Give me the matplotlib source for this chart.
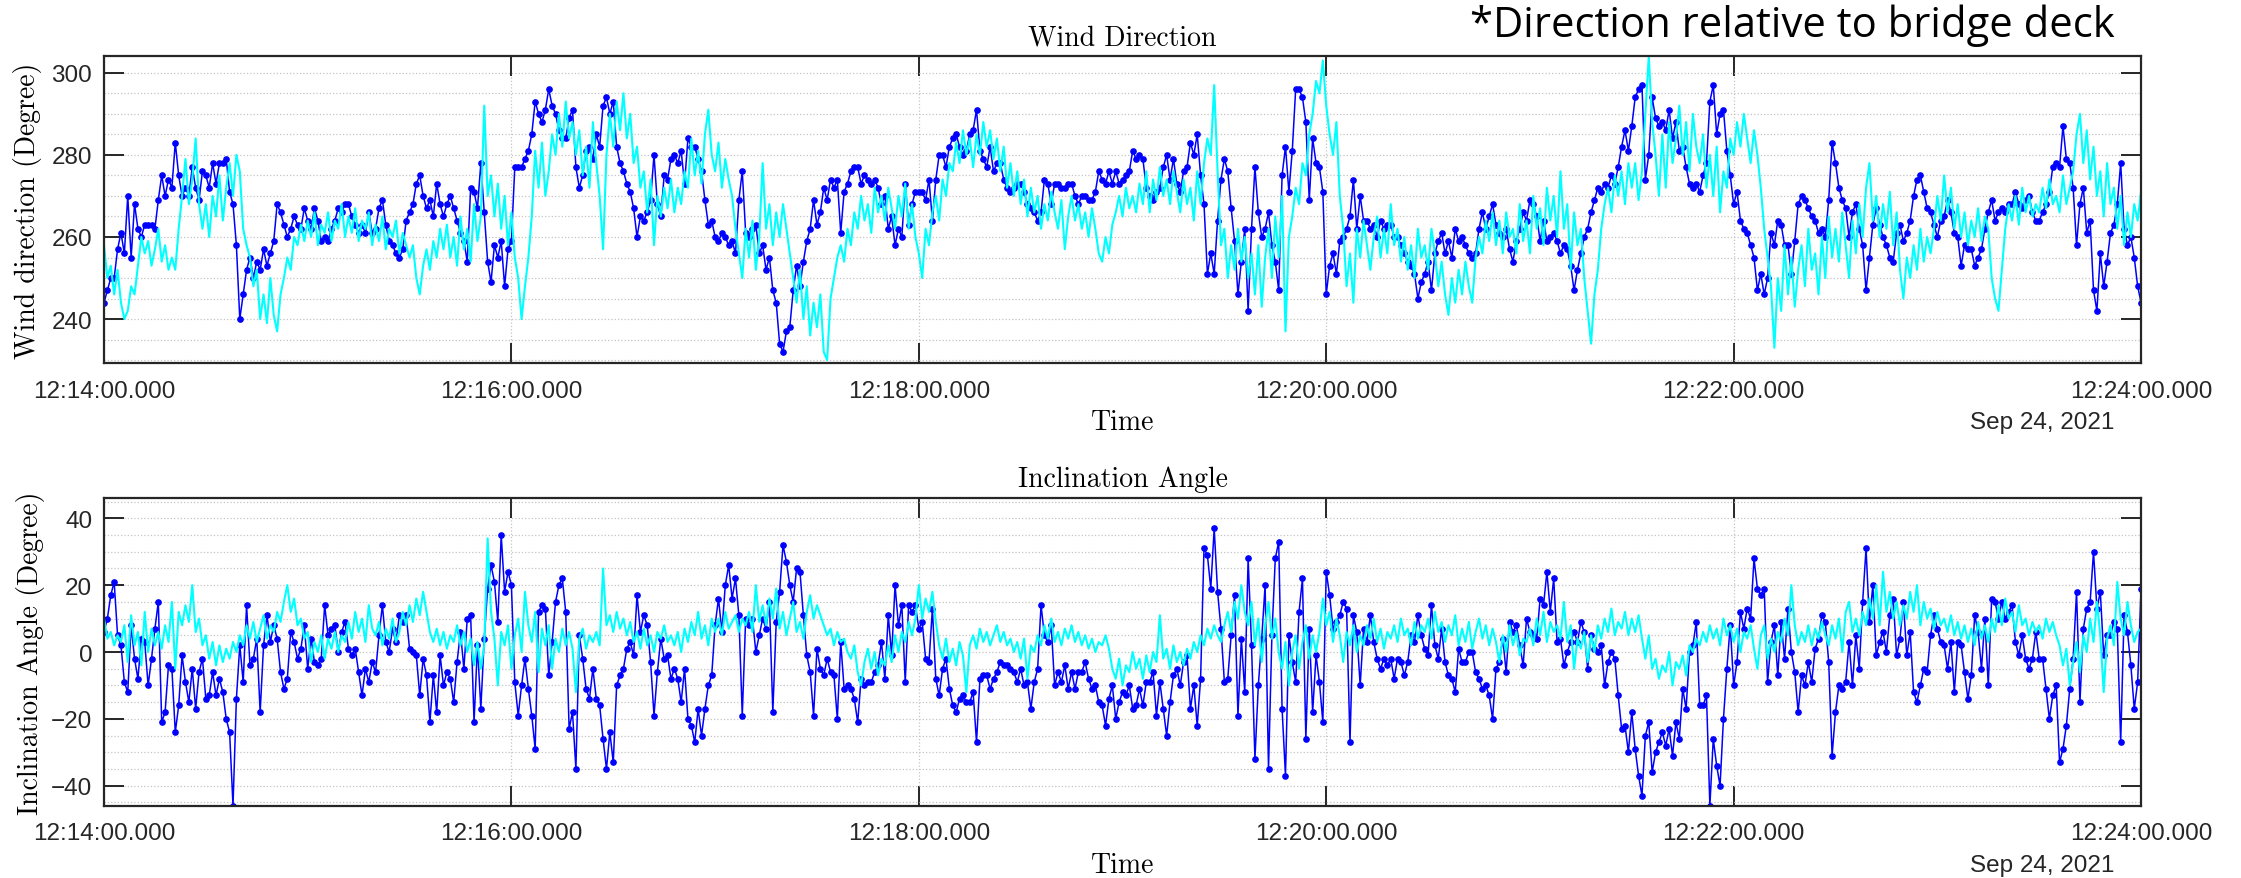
import matplotlib.pyplot as plt
import matplotlib.dates as mdates
from matplotlib.ticker import MultipleLocator
import numpy as np

# one value per second, 12:14:00 -> 12:24:00
dir_dots = [
    244, 247, 250, 250, 257, 261, 256, 270, 255, 268,
    262, 260, 263, 263, 263, 262, 269, 275, 270, 274,
    272, 283, 275, 270, 272, 270, 277, 272, 269, 276,
    275, 272, 278, 273, 278, 278, 279, 271, 268, 258,
    240, 246, 252, 255, 250, 254, 252, 257, 253, 256,
    259, 268, 266, 263, 260, 262, 265, 263, 262, 267,
    264, 262, 267, 264, 259, 260, 259, 262, 264, 267,
    266, 268, 268, 265, 263, 261, 263, 261, 266, 261,
    262, 267, 269, 263, 259, 258, 256, 255, 257, 264,
    266, 268, 273, 275, 270, 267, 269, 265, 273, 268,
    265, 268, 270, 267, 264, 261, 259, 254, 272, 271,
    267, 278, 266, 254, 249, 258, 255, 259, 248, 257,
    259, 277, 277, 277, 279, 281, 285, 293, 290, 288,
    291, 296, 292, 290, 286, 284, 284, 289, 291, 277,
    272, 275, 281, 282, 279, 285, 282, 292, 294, 290,
    293, 282, 278, 276, 273, 271, 267, 260, 265, 264,
    266, 269, 280, 268, 265, 275, 274, 279, 280, 278,
    281, 273, 284, 282, 282, 279, 276, 269, 263, 264,
    260, 259, 261, 260, 258, 259, 256, 269, 276, 261,
    260, 262, 263, 256, 258, 252, 255, 247, 244, 234,
    232, 237, 238, 247, 253, 248, 254, 259, 262, 269,
    263, 266, 272, 269, 274, 272, 274, 261, 271, 273,
    276, 277, 277, 273, 275, 274, 273, 274, 272, 268,
    270, 262, 265, 258, 262, 260, 273, 263, 268, 271,
    271, 271, 269, 274, 264, 274, 280, 280, 277, 282,
    284, 285, 282, 280, 281, 285, 286, 291, 281, 279,
    277, 282, 276, 278, 278, 274, 272, 271, 272, 273,
    273, 271, 268, 267, 266, 264, 266, 274, 273, 268,
    273, 273, 272, 272, 273, 273, 270, 268, 270, 270,
    269, 269, 271, 276, 274, 273, 276, 273, 276, 273,
    274, 275, 276, 281, 279, 280, 279, 272, 270, 269,
    271, 272, 277, 280, 274, 279, 273, 271, 276, 277,
    283, 280, 285, 275, 268, 251, 256, 251, 264, 274,
    279, 276, 267, 259, 246, 254, 262, 242, 262, 277,
    266, 260, 262, 266, 258, 254, 247, 275, 282, 271,
    281, 296, 296, 294, 288, 269, 284, 278, 277, 271,
    246, 253, 256, 251, 259, 260, 262, 265, 274, 262,
    270, 264, 264, 262, 263, 260, 264, 262, 263, 263,
    260, 260, 258, 256, 254, 253, 251, 245, 249, 251,
    254, 247, 256, 259, 261, 256, 259, 255, 262, 259,
    260, 258, 256, 255, 256, 262, 266, 262, 265, 268,
    263, 261, 260, 262, 257, 254, 259, 262, 266, 264,
    269, 268, 265, 259, 264, 259, 260, 261, 259, 256,
    258, 257, 253, 247, 252, 256, 260, 262, 266, 269,
    272, 271, 273, 272, 275, 273, 277, 282, 286, 281,
    287, 294, 296, 297, 274, 280, 294, 289, 287, 288,
    286, 291, 284, 288, 281, 282, 277, 273, 272, 273,
    271, 275, 278, 293, 297, 285, 290, 291, 281, 275,
    268, 271, 264, 262, 261, 258, 255, 247, 251, 246,
    250, 261, 258, 264, 263, 258, 258, 251, 259, 268,
    270, 269, 267, 265, 264, 261, 262, 260, 269, 283,
    278, 272, 269, 267, 260, 266, 268, 262, 258, 247,
    255, 263, 267, 263, 260, 258, 255, 254, 261, 263,
    259, 261, 264, 270, 274, 275, 271, 267, 266, 263,
    260, 264, 265, 269, 266, 261, 260, 253, 258, 257,
    257, 253, 255, 257, 262, 266, 269, 264, 266, 267,
    266, 268, 268, 271, 268, 267, 269, 270, 266, 264,
    264, 266, 268, 271, 277, 278, 277, 287, 279, 278,
    272, 258, 268, 272, 261, 264, 247, 242, 256, 248,
    254, 261, 263, 268, 278, 262, 258, 260, 255, 248,
    244,
]

dir_trace = [
    258, 250, 253, 246, 252, 244, 240, 242, 248, 246,
    253, 260, 256, 259, 253, 257, 262, 254, 258, 252,
    255, 252, 262, 270, 279, 268, 274, 284, 268, 262,
    268, 260, 270, 265, 275, 264, 272, 278, 270, 280,
    276, 262, 258, 255, 248, 252, 240, 246, 239, 250,
    241, 237, 246, 250, 255, 252, 260, 258, 263, 259,
    264, 260, 266, 258, 263, 261, 266, 259, 264, 262,
    268, 260, 265, 261, 267, 259, 264, 262, 266, 258,
    263, 259, 265, 257, 262, 260, 264, 256, 261, 258,
    255, 258, 250, 246, 253, 257, 252, 259, 255, 262,
    257, 263, 255, 260, 253, 265, 257, 262, 254, 268,
    259, 265, 292, 270, 275, 265, 273, 262, 270, 258,
    266, 255, 250, 240, 248, 255, 265, 281, 272, 283,
    270, 276, 285, 280, 290, 282, 293, 284, 288, 280,
    286, 275, 282, 272, 288, 278, 270, 257, 280, 290,
    282, 293, 286, 295, 284, 290, 278, 282, 272, 276,
    266, 274, 258, 270, 265, 272, 267, 274, 266, 272,
    268, 276, 272, 284, 275, 281, 273, 285, 291, 280,
    276, 283, 272, 279, 274, 270, 262, 256, 250, 262,
    255, 264, 252, 260, 278, 262, 268, 258, 266, 260,
    268, 262, 256, 250, 244, 252, 240, 248, 236, 244,
    238, 246, 232, 230, 245, 250, 255, 258, 254, 262,
    258, 266, 262, 270, 264, 268, 261, 272, 266, 270,
    264, 272, 267, 262, 270, 265, 273, 262, 268, 260,
    256, 250, 262, 258, 266, 270, 264, 274, 270, 278,
    276, 283, 278, 286, 280, 284, 277, 285, 280, 288,
    282, 286, 279, 284, 276, 282, 272, 278, 270, 276,
    268, 274, 265, 272, 266, 270, 262, 268, 264, 271,
    266, 262, 269, 257, 265, 270, 264, 268, 262, 266,
    260, 267, 262, 256, 254, 260, 256, 263, 266, 270,
    265, 272, 267, 270, 266, 273, 268, 276, 266, 274,
    269, 277, 270, 274, 268, 276, 271, 266, 274, 268,
    272, 264, 276, 268, 278, 284, 280, 297, 276, 258,
    262, 250, 258, 252, 262, 254, 260, 250, 256, 246,
    258, 243, 255, 262, 250, 265, 255, 270, 237, 260,
    265, 272, 268, 278, 275, 285, 290, 298, 295, 303,
    292, 285, 280, 288, 270, 262, 248, 256, 244, 262,
    255, 264, 258, 252, 260, 265, 255, 262, 256, 268,
    258, 262, 254, 260, 252, 258, 250, 262, 255, 258,
    252, 262, 256, 248, 254, 246, 241, 250, 244, 252,
    246, 254, 248, 244, 255, 260, 256, 264, 259, 266,
    258, 264, 256, 266, 260, 262, 256, 268, 259, 264,
    256, 270, 262, 267, 258, 272, 264, 270, 260, 276,
    262, 268, 252, 266, 258, 262, 250, 242, 234, 246,
    252, 262, 268, 272, 266, 275, 270, 276, 268, 278,
    272, 278, 269, 276, 290, 304, 288, 280, 270, 285,
    272, 288, 278, 284, 292, 280, 288, 276, 290, 282,
    278, 285, 272, 280, 270, 282, 266, 276, 272, 284,
    280, 288, 282, 290, 284, 278, 286, 280, 272, 262,
    255, 248, 233, 250, 242, 258, 246, 255, 243, 252,
    258, 248, 262, 252, 256, 246, 260, 250, 265, 255,
    262, 254, 266, 258, 250, 264, 256, 268, 260, 272,
    278, 264, 270, 260, 268, 262, 271, 258, 266, 252,
    245, 255, 250, 258, 252, 262, 254, 260, 256, 262,
    270, 264, 275, 266, 272, 262, 268, 260, 266, 258,
    264, 260, 267, 259, 265, 262, 250, 245, 242, 252,
    262, 268, 264, 270, 263, 272, 266, 270, 265, 268,
    266, 272, 267, 274, 268, 270, 266, 275, 268, 272,
    276, 285, 290, 278, 286, 274, 282, 270, 276, 265,
    278, 268, 272, 262, 270, 258, 266, 260, 268, 264,
    271,
]

incl_dots = [
    6, 10, 17, 21, 5, 2, -9, -12, 8, -2,
    -8, 4, 3, -10, -2, 7, 15, -21, -18, -4,
    -5, -24, -16, -1, -9, -15, -5, -17, -6, -2,
    -14, -13, -6, -13, -8, -12, -20, -24, -46, -14,
    2, -9, 14, -4, -2, 4, -18, 2, 11, 3,
    8, 4, -6, -11, -8, 6, 3, -2, 1, 8,
    -5, 4, -3, -4, -2, 14, 5, 7, 8, 0,
    6, 9, 1, -1, 1, -6, -13, -5, -9, -3,
    -6, 5, 14, 3, 0, 7, 3, 11, 9, 11,
    1, 0, -1, -13, -2, -7, -21, -7, -18, -1,
    -10, -6, -8, -15, -3, 6, -5, 10, 11, -21,
    2, -17, 4, 19, 26, 21, 9, 35, 18, 24,
    20, -9, -19, -10, -2, -11, -19, -29, 12, 14,
    13, -7, 3, 15, 20, 22, 12, -23, -18, -35,
    5, -2, -11, -14, -5, -14, -16, -26, -35, -24,
    -33, -10, -7, -5, 1, 3, -1, 17, 6, 11,
    8, -3, -19, -6, 4, -2, -1, -8, -5, -8,
    -15, -5, -20, -22, -27, -17, -25, -17, -10, -7,
    8, 16, 6, 20, 26, 16, 22, 11, -19, 10,
    8, 10, 0, 5, 10, 7, 15, -18, 9, 18,
    32, 27, 20, 15, 25, 24, 11, -1, -6, -19,
    1, -5, -7, -2, -6, -7, -20, 3, -11, -10,
    -11, -14, -21, -8, -10, -9, -9, -6, -4, 3,
    -8, 11, -1, 20, 8, 14, -9, 14, 12, 14,
    7, 9, -2, -3, 13, -8, -13, -5, -2, -11,
    -16, -18, -14, -13, -15, -15, -12, -27, -8, -7,
    -7, -11, -8, -6, -3, -4, -4, -5, -6, -9,
    -5, -10, -9, -17, -9, -5, 14, 5, 3, 8,
    -10, -6, -9, -4, -11, -6, -11, -6, -6, -3,
    -8, -11, -10, -15, -16, -22, -14, -10, -20, -15,
    -12, -13, -10, -17, -16, -11, -16, -9, -9, -6,
    -19, -9, -17, -25, -15, -7, -5, -10, -3, -1,
    -17, -10, -22, -8, 31, 29, 19, 37, 18, 7,
    -9, -8, 5, 17, -19, 4, -12, 28, 2, -32,
    -10, 4, 20, -35, 5, 28, 33, -17, -37, 5,
    -3, -9, 12, 22, -26, 7, -18, -1, -9, -21,
    24, 17, 7, 9, 11, 15, 13, -27, 11, 6,
    -10, 7, 3, 11, 3, -2, -5, -2, -4, -2,
    -8, -2, -3, -7, -3, 5, 3, 11, 5, 1,
    -1, 14, 2, -2, 7, -3, -7, -8, -12, 1,
    -3, -3, 0, 0, -6, -8, -11, -10, -13, -20,
    -5, -3, 4, -6, 9, 6, 8, 2, -4, 10,
    6, 5, 4, 16, 14, 24, 12, 22, 3, 4,
    -4, 0, 3, 6, 3, 9, 6, -5, 5, 1,
    0, 2, -10, -3, 0, -2, -13, -23, -22, -30,
    -18, -29, -37, -43, -25, -21, -36, -30, -27, -24,
    -28, -23, -31, -21, -26, -11, -17, 0, 2, 9,
    -16, -16, -13, -46, -26, -34, -40, -20, -5, 8,
    -10, -3, 12, 7, 13, 10, 28, 19, 17, 19,
    -9, 3, 8, -7, 9, -2, 13, 0, -6, -18,
    -7, -10, -3, -9, 1, 4, 11, 9, -3, -31,
    -18, -10, -11, -9, 3, -10, 5, -5, 15, 31,
    9, 20, -1, 3, 6, 0, 11, 16, -1, 4,
    15, -1, 6, -12, -15, -10, -5, -6, 5, 11,
    7, 3, 2, -5, 3, -12, 3, 2, -6, -14,
    -7, 11, 6, -5, 10, -10, 16, 15, 10, 15,
    10, 12, 14, 3, -1, 5, -2, -5, -2, 6,
    -2, -2, -11, -20, -13, -10, -33, -29, -22, -11,
    -2, 18, -15, 7, 13, 15, 30, 13, 18, -1,
    5, 5, 9, 7, -27, 11, 6, -4, -17, -9,
    19,
]

incl_trace = [
    10, 4, 6, 2, 5, 3, 8, -3, 11, 2,
    6, -4, 12, 0, 7, 2, 6, 1, 8, 3,
    15, -5, 12, 8, 14, 9, 20, 6, 10, 2,
    5, -2, 3, -4, 2, -3, 1, -2, 3, 0,
    5, 2, 8, 4, 9, 3, 7, 11, 4, 8,
    6, 12, 9, 15, 20, 12, 16, 8, 10, 4,
    6, -3, 3, 0, 5, -2, 4, 1, 6, 0,
    5, 3, 9, 4, 12, 6, 10, 3, 14, 7,
    5, 9, 2, 7, 4, 10, 3, 6, 12, 8,
    14, 9, 16, 11, 18, 12, 6, 3, 7, 2,
    6, 1, 5, 3, 8, 2, 6, 0, 4, -4,
    3, -5, 2, 34, 12, 4, -10, 6, 2, 8,
    -5, 5, 10, 0, 18, 8, 3, 12, -6, 7,
    2, 8, -5, 4, 0, 7, 2, 6, 1, -12,
    4, 7, 1, 5, 3, 6, 2, 25, 8, 11,
    6, 12, 7, 10, 5, 9, 3, 6, 1, 7,
    2, 5, 0, 6, 4, 8, 3, 5, 2, 6,
    0, 7, 3, 9, 5, 12, 4, 8, 2, 10,
    6, 10, 5, 12, 7, 9, 11, 6, 10, 8,
    12, 6, 20, 9, 14, 8, 16, 10, 19, 7,
    12, 5, 10, 15, 6, 9, 4, 12, 17, 10,
    14, 11, 8, 5, 7, 2, 6, 3, 4, 0,
    -2, 2, -6, -10, -3, 1, -5, 0, -7, -2,
    -4, 2, -3, 5, 0, 6, 3, 9, 5, 10,
    20, 10, 16, 12, 18, 9, 2, -2, 4, -3,
    1, -4, 3, -1, -12, 2, 5, 1, 7, 3,
    6, 2, 5, 8, 3, 6, 2, 4, 0, 3,
    -2, 4, -8, 2, 0, 5, 2, 8, 4, 10,
    3, 6, 2, 7, 4, 8, 3, 6, 2, 5,
    1, 4, 0, 3, 2, 5, 1, -5, -8, -2,
    -10, -4, -6, 0, -5, -2, -8, -1, -6, 0,
    -3, 11, -2, 1, -5, 2, -3, 0, -4, 1,
    -2, 3, 0, 5, 2, 7, 4, 8, 5, 3,
    8, 12, 6, 15, 10, 20, 12, 8, 15, 2,
    10, -3, 8, 15, 4, 10, 0, -5, 3, -10,
    0, 5, -5, 3, 8, -2, 5, 0, 6, 16,
    8, 12, 3, 10, 5, -3, 6, 2, 8, 0,
    5, 2, 8, 4, 10, 3, 7, 1, 6, 4,
    8, 3, 10, 5, 7, 2, 9, 4, 8, 6,
    10, 4, 12, 6, 9, 3, 8, 5, 11, 2,
    7, 3, 9, 1, 6, 10, 4, 8, 2, 7,
    3, -3, 5, 0, 8, 2, 6, -1, 4, 3,
    7, 2, 10, 5, 12, 3, 9, 6, 8, 4,
    15, 3, 8, -5, 4, 1, 6, -3, 5, 0,
    8, 4, 10, 6, 13, 5, 9, 7, 12, 5,
    10, 6, 11, 4, -2, 5, -5, -2, -8, -4,
    -6, 0, -10, -3, -5, -1, -7, 2, 0, 4,
    2, 6, 3, 8, 4, 7, 2, 10, 5, 8,
    3, 7, 0, 6, 4, 8, 1, -5, 5, 8,
    -2, 4, 0, 6, 3, 10, 5, 20, 8, 2,
    6, 3, 8, 2, 7, 4, 9, 5, 2, 8,
    4, 10, 0, 12, 15, 6, 10, 5, 12, 8,
    16, 10, 20, 8, 24, 12, 18, 10, 15, 8,
    14, 10, 18, 12, 20, 8, 15, 10, 13, 7,
    12, 8, 10, 6, 11, 5, 9, 4, 8, 3,
    7, 2, 9, 4, 8, 3, 10, 6, 14, 8,
    16, 10, 12, 6, 14, 8, 10, 5, 9, 6,
    8, 4, 10, 6, 9, 5, 2, -4, 1, -10,
    -3, 3, -6, 5, 0, 10, 3, 15, 5, -12,
    4, 8, 2, 21, 10, 5, 15, 8, 3, 6,
    7,
]

start = np.datetime64('2021-09-24T12:14:00')
end = start + np.timedelta64(600, 's')
tick_times = start + np.arange(0, 601, 120).astype('timedelta64[s]')
date_label = 'Sep 24, 2021'
note = '*Direction relative to bridge deck'

plt.rcParams['font.family'] = 'Liberation Sans'
INK = '#262626'


def times(vals):
    return start + np.arange(len(vals)).astype('timedelta64[s]')


def style_panel(ax, title, ylabel, ylim, yticks, ylab_x):
    ax.set_xlim(start, end)
    ax.set_ylim(*ylim)
    ax.set_yticks(yticks)
    ax.yaxis.set_minor_locator(MultipleLocator(5))
    ax.set_xticks(tick_times)
    ax.xaxis.set_major_formatter(mdates.DateFormatter('%H:%M:%S.000'))
    ax.tick_params(which='major', direction='in', length=14.5, width=1.4,
                   top=True, right=True, labelsize=17.5, colors=INK)
    ax.tick_params(axis='x', pad=12)
    ax.tick_params(axis='y', pad=8.5)
    ax.tick_params(which='minor', length=0)
    ax.grid(axis='y', which='both', ls=':', color='#c4c4c4', lw=0.9)
    ax.grid(axis='x', which='major', ls=':', color='#c4c4c4', lw=0.9)
    ax.set_axisbelow(True)
    for s in ax.spines.values():
        s.set_linewidth(1.6)
        s.set_color(INK)
    ax.set_title(title, fontfamily='cmr10', fontsize=20, pad=8.6, color='black')
    ax.set_ylabel(ylabel, fontfamily='cmr10', fontsize=20, color='black')
    ax.yaxis.set_label_coords(ylab_x, 0.5)
    ax.yaxis.label.set_va('center')
    ax.set_xlabel('Time', fontfamily='cmr10', fontsize=20, color='black')
    ax.xaxis.set_label_coords(0.5, -0.193)
    ax.xaxis.label.set_va('center')
    ax.text(0.987, -0.193, date_label, transform=ax.transAxes, ha='right',
            va='center', fontsize=17.5, color=INK)


fig = plt.figure(figsize=(22.41, 8.79), dpi=100)
ax1 = fig.add_axes([0.0464, 0.5859, 0.909, 0.3493])
ax2 = fig.add_axes([0.0464, 0.0822, 0.909, 0.3498])

ax1.plot(times(dir_dots), dir_dots, '-o', color='#0000ff', lw=1.1, ms=3.8)
ax1.plot(times(dir_trace), dir_trace, '-', color='#00ffff', lw=1.5)
style_panel(ax1, 'Wind Direction', 'Wind direction (Degree)',
            (229.3, 304.1), [240, 260, 280, 300], -0.0373)

ax2.plot(times(incl_dots), incl_dots, '-o', color='#0000ff', lw=1.1, ms=3.8)
ax2.plot(times(incl_trace), incl_trace, '-', color='#00ffff', lw=1.5)
style_panel(ax2, 'Inclination Angle', 'Inclination Angle (Degree)',
            (-46, 46), [-40, -20, 0, 20, 40], -0.0363)

# note text sized to span x = 1470..2115 px
note_txt = fig.text(1470 / 2241, 1 - 37 / 879, note, fontfamily='Open Sans',
                    fontsize=26, color='black', ha='left', va='baseline')
renderer = fig.canvas.get_renderer()
w = note_txt.get_window_extent(renderer).width
note_txt.set_fontsize(26 * 645 / w)

fig.savefig('out.png', dpi=100)
